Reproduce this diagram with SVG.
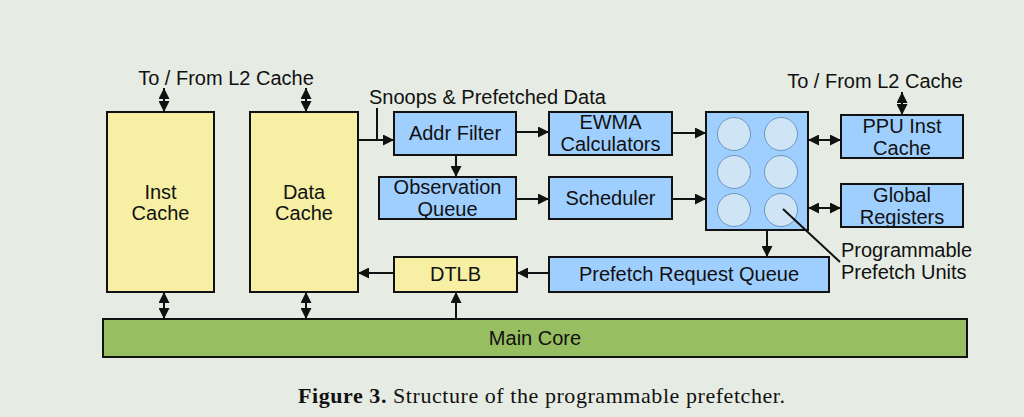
<svg xmlns="http://www.w3.org/2000/svg" width="1024" height="417" viewBox="0 0 1024 417">
<style>
.bg{fill:#e6ece3}
.y{fill:#f6efa4;stroke:#111;stroke-width:2}
.b{fill:#9fcfff;stroke:#111;stroke-width:2}
.g{fill:#97be60;stroke:#111;stroke-width:2}
.c{fill:#cfe4f5;stroke:#6f96c0;stroke-width:1}
.t{font-family:"Liberation Sans",Arial,sans-serif;font-size:20px;fill:#111;text-anchor:middle}
.l{font-family:"Liberation Sans",Arial,sans-serif;font-size:20px;fill:#111}
.w{stroke:#111;stroke-width:2;fill:none}
.a{stroke:#111;stroke-width:2;fill:none;marker-end:url(#ah)}
.d{stroke:#111;stroke-width:2;fill:none;marker-start:url(#as);marker-end:url(#ah)}
.cap{font-family:"Liberation Serif","Times New Roman",serif;font-size:22px;fill:#111}
</style>
<defs>
<marker id="ah" viewBox="0 0 10 10" refX="10" refY="5" markerWidth="5.5" markerHeight="5.5" orient="auto" markerUnits="strokeWidth"><path d="M0,0 L10,5 L0,10 z" fill="#111"/></marker>
<marker id="as" viewBox="0 0 10 10" refX="0" refY="5" markerWidth="5.5" markerHeight="5.5" orient="auto" markerUnits="strokeWidth"><path d="M10,0 L0,5 L10,10 z" fill="#111"/></marker>
</defs>
<rect class="bg" x="0" y="0" width="1024" height="417"/>

<text class="t" x="226" y="85">To / From L2 Cache</text>
<text class="t" x="875" y="88">To / From L2 Cache</text>
<text class="l" x="369" y="104">Snoops &amp; Prefetched Data</text>

<g id="inst-cache"><rect class="y" x="107" y="112" width="107" height="180"/><text class="t" x="160.5" y="199">Inst</text><text class="t" x="160.5" y="220">Cache</text></g>
<g id="data-cache"><rect class="y" x="250" y="112" width="108" height="180"/><text class="t" x="304" y="199">Data</text><text class="t" x="304" y="220">Cache</text></g>
<g id="addr-filter"><rect class="b" x="394" y="112" width="122" height="43"/><text class="t" x="455" y="140">Addr Filter</text></g>
<g id="ewma"><rect class="b" x="549" y="112" width="123" height="43"/><text class="t" x="610.5" y="129">EWMA</text><text class="t" x="610.5" y="151">Calculators</text></g>
<g id="obs-queue"><rect class="b" x="379" y="177" width="137" height="42"/><text class="t" x="447.5" y="194">Observation</text><text class="t" x="447.5" y="216">Queue</text></g>
<g id="scheduler"><rect class="b" x="549" y="177" width="123" height="42"/><text class="t" x="610.5" y="205">Scheduler</text></g>
<g id="ppus"><rect class="b" x="706" y="112" width="102" height="118"/>
<circle class="c" cx="734" cy="134" r="16.5"/><circle class="c" cx="781" cy="134" r="16.5"/>
<circle class="c" cx="734" cy="172" r="16.5"/><circle class="c" cx="781" cy="172" r="16.5"/>
<circle class="c" cx="734" cy="210" r="16.5"/><circle class="c" cx="781" cy="210" r="16.5"/></g>
<g id="ppu-inst-cache"><rect class="b" x="841" y="115" width="122" height="43"/><text class="t" x="902" y="133">PPU Inst</text><text class="t" x="902" y="155">Cache</text></g>
<g id="global-registers"><rect class="b" x="841" y="184" width="122" height="43"/><text class="t" x="902" y="202">Global</text><text class="t" x="902" y="224">Registers</text></g>
<g id="dtlb"><rect class="y" x="394" y="257" width="123" height="35"/><text class="t" x="455.5" y="281">DTLB</text></g>
<g id="prefetch-request-queue"><rect class="b" x="549" y="257" width="280" height="35"/><text class="t" x="689" y="281">Prefetch Request Queue</text></g>
<g id="main-core"><rect class="g" x="103" y="319" width="864" height="38"/><text class="t" x="535" y="345">Main Core</text></g>
<g id="ppu-label"><text class="l" x="841" y="257">Programmable</text><text class="l" x="841" y="279">Prefetch Units</text></g>

<g id="connectors">
<path class="d" d="M164,88 V112"/>
<path class="d" d="M306,88 V112"/>
<path class="d" d="M902,92 V115"/>
<path class="w" d="M377,108 V140"/>
<path class="a" d="M358,140 H394"/>
<path class="a" d="M516,132 H549"/>
<path class="a" d="M516,199 H549"/>
<path class="a" d="M456,155 V177"/>
<path class="a" d="M672,133 H706"/>
<path class="a" d="M672,199 H706"/>
<path class="d" d="M808,140 H841"/>
<path class="d" d="M808,208 H841"/>
<path class="a" d="M767,230 V257"/>
<path class="w" stroke-width="1.5" d="M783,209 L840,262"/>
<path class="a" d="M549,273 H517"/>
<path class="a" d="M394,273 H358"/>
<path class="a" d="M456,319 V292"/>
<path class="d" d="M164,292 V319"/>
<path class="d" d="M306,292 V319"/>
</g>

<text class="cap" x="298" y="403" textLength="487" lengthAdjust="spacing"><tspan font-weight="bold">Figure 3.</tspan> Structure of the programmable prefetcher.</text>
</svg>
